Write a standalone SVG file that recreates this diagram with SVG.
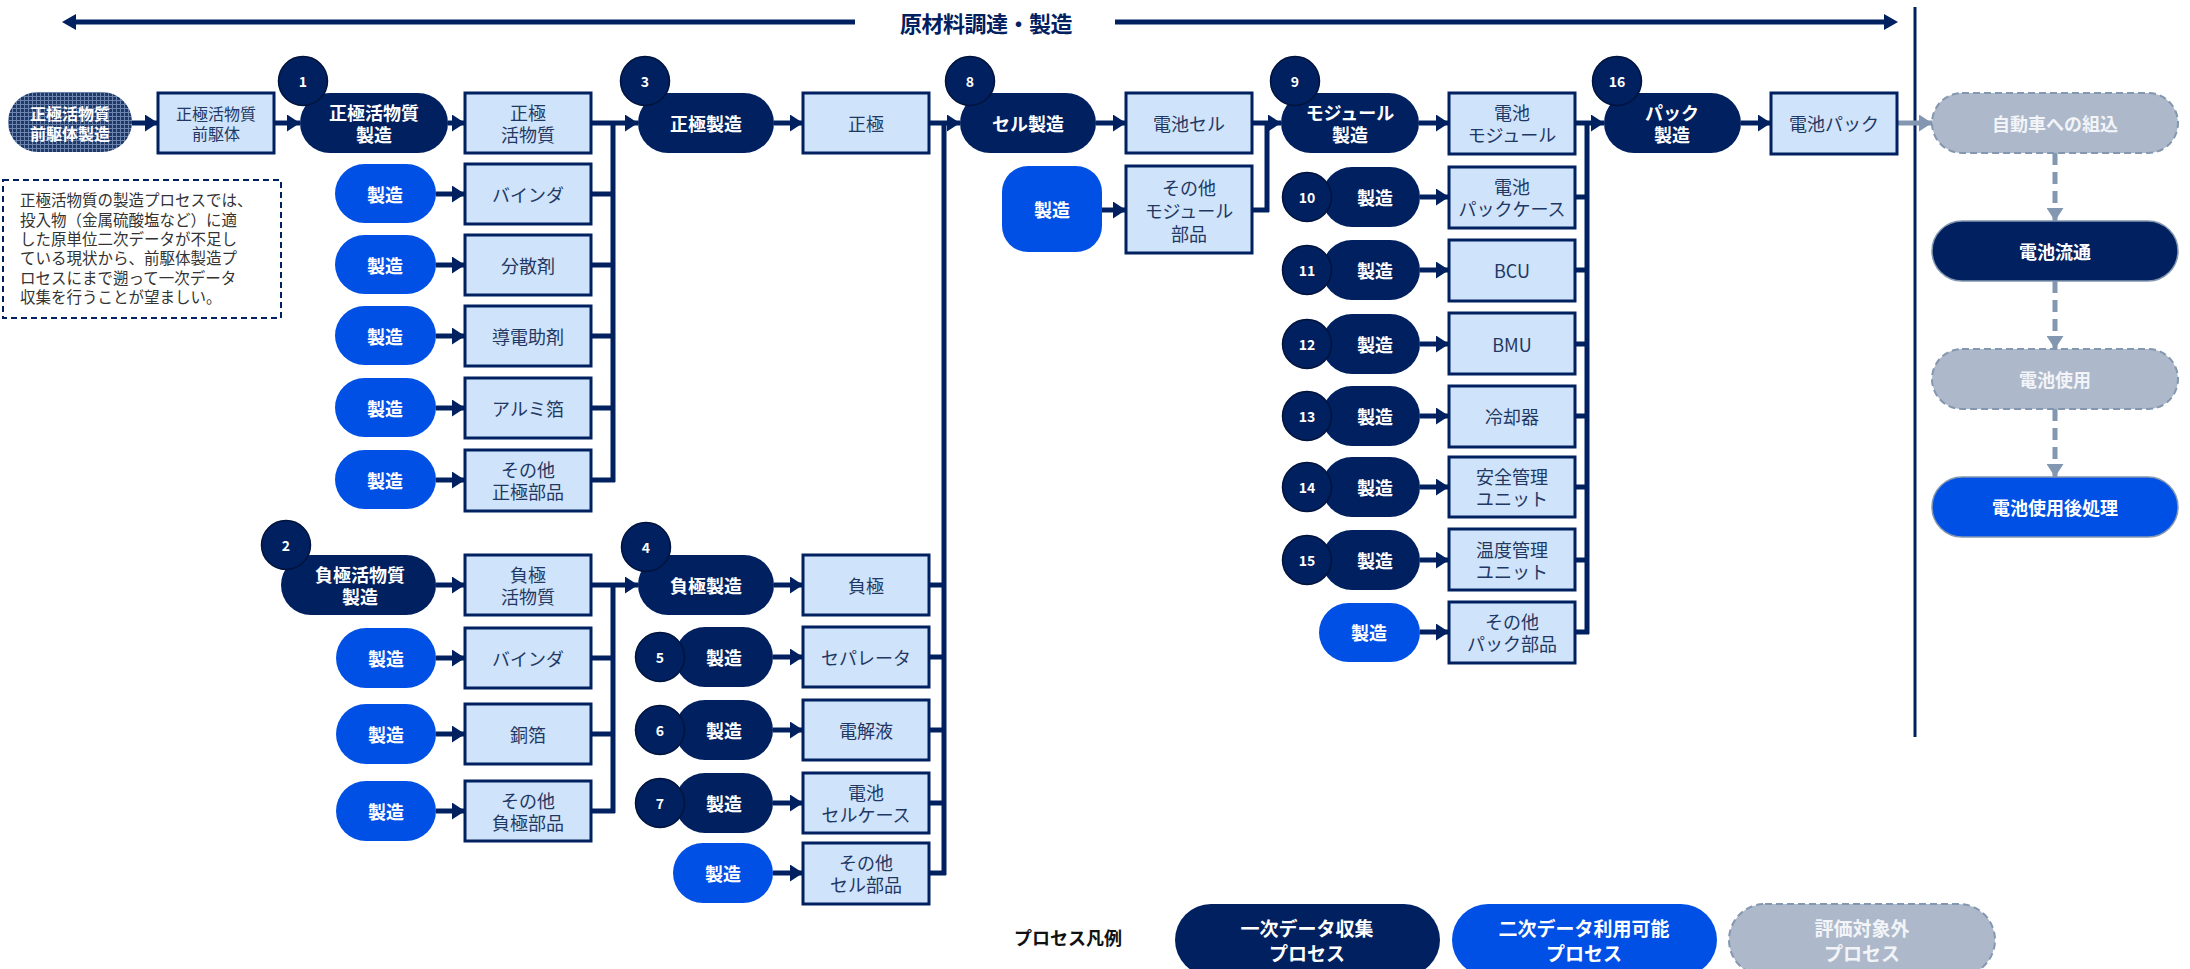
<svg xmlns="http://www.w3.org/2000/svg" width="2190" height="969" viewBox="0 0 2190 969">
<defs>
<style>
.dk{fill:#002060}
.bl{fill:#0050e6}
.bx{fill:#cfe3fa;stroke:#002060;stroke-width:3}
.gr{fill:#adb9ca;stroke:#8497b0;stroke-width:2;stroke-dasharray:7 4}
.cir{fill:#002060;stroke:#00133d;stroke-width:1.5}
text{font-family:"Noto Sans CJK JP","Noto Sans",sans-serif;dominant-baseline:central;text-anchor:middle}
.wt{font-weight:bold;fill:#ffffff;font-size:18px}
.gt{font-weight:bold;fill:#f2f4f8;font-size:18px}
.bt{fill:#1f3864;font-size:18px}
.sm{font-size:16px}
.num{font-weight:bold;fill:#ffffff;font-size:14px}
.ln{stroke:#002060;stroke-width:5;fill:none}
.ar{stroke:#002060;stroke-width:5;fill:none;marker-end:url(#ah)}
.ga{stroke:#8497b0;stroke-width:5;fill:none;marker-end:url(#gh)}
.gd{stroke:#8497b0;stroke-width:5;fill:none;stroke-dasharray:12 7;marker-end:url(#gh)}
.note{fill:#333333;font-size:15.5px;text-anchor:start;font-weight:normal}
</style>
<marker id="ah" markerUnits="userSpaceOnUse" markerWidth="13" markerHeight="17" refX="13" refY="8.5" orient="auto"><path d="M0,0 L13,8.5 L0,17 z" fill="#002060"/></marker>
<marker id="gh" markerUnits="userSpaceOnUse" markerWidth="13" markerHeight="17" refX="13" refY="8.5" orient="auto"><path d="M0,0 L13,8.5 L0,17 z" fill="#8497b0"/></marker>
<pattern id="hatch" width="4" height="4" patternUnits="userSpaceOnUse"><rect width="4" height="4" fill="#20396b"/><path d="M0,0.5 H4 M0.5,0 V4" stroke="#6d84ad" stroke-width="1"/></pattern>
</defs>

<g id="header">
<line x1="74" y1="22" x2="855" y2="22" class="ln"/>
<path d="M62,22 L76,14 L76,30 z" fill="#002060"/>
<line x1="1115" y1="22" x2="1886" y2="22" class="ln"/>
<path d="M1898,22 L1884,14 L1884,30 z" fill="#002060"/>
<text x="986" y="22" style="font-weight:bold;font-size:22px;fill:#002060;letter-spacing:-0.5px">原材料調達・製造</text>
<line x1="1915" y1="7" x2="1915" y2="737" stroke="#002060" stroke-width="3"/>
</g>

<g id="connectors">
<line x1="132" y1="123" x2="158" y2="123" class="ar"/>
<line x1="274" y1="123" x2="300" y2="123" class="ar"/>
<line x1="448" y1="123" x2="465" y2="123" class="ar"/>
<line x1="436" y1="194" x2="465" y2="194" class="ar"/>
<line x1="436" y1="265" x2="465" y2="265" class="ar"/>
<line x1="436" y1="336" x2="465" y2="336" class="ar"/>
<line x1="436" y1="408" x2="465" y2="408" class="ar"/>
<line x1="436" y1="480" x2="465" y2="480" class="ar"/>
<line x1="591" y1="123" x2="638" y2="123" class="ar"/>
<path d="M613,121 V482 M591,194 H615 M591,265 H615 M591,336 H615 M591,408 H615 M591,480 H615" class="ln"/>
<line x1="774" y1="123" x2="803" y2="123" class="ar"/>
<line x1="929" y1="123" x2="960" y2="123" class="ar"/>
<path d="M944,121 V875 M929,585 H946 M929,657 H946 M929,730 H946 M929,803 H946 M929,873 H946" class="ln"/>
<line x1="436" y1="585" x2="465" y2="585" class="ar"/>
<line x1="436" y1="658" x2="465" y2="658" class="ar"/>
<line x1="436" y1="734" x2="465" y2="734" class="ar"/>
<line x1="436" y1="811" x2="465" y2="811" class="ar"/>
<line x1="591" y1="585" x2="638" y2="585" class="ar"/>
<path d="M613,583 V813 M591,658 H615 M591,734 H615 M591,811 H615" class="ln"/>
<line x1="774" y1="585" x2="803" y2="585" class="ar"/>
<line x1="773" y1="657" x2="803" y2="657" class="ar"/>
<line x1="773" y1="730" x2="803" y2="730" class="ar"/>
<line x1="773" y1="803" x2="803" y2="803" class="ar"/>
<line x1="773" y1="873" x2="803" y2="873" class="ar"/>
<line x1="1096" y1="123" x2="1126" y2="123" class="ar"/>
<line x1="1102" y1="210" x2="1126" y2="210" class="ar"/>
<line x1="1252" y1="123" x2="1281" y2="123" class="ar"/>
<path d="M1267,121 V212 M1252,210 H1269" class="ln"/>
<line x1="1419" y1="123" x2="1449" y2="123" class="ar"/>
<line x1="1420" y1="197" x2="1449" y2="197" class="ar"/>
<line x1="1420" y1="270" x2="1449" y2="270" class="ar"/>
<line x1="1420" y1="344" x2="1449" y2="344" class="ar"/>
<line x1="1420" y1="416" x2="1449" y2="416" class="ar"/>
<line x1="1420" y1="487" x2="1449" y2="487" class="ar"/>
<line x1="1420" y1="560" x2="1449" y2="560" class="ar"/>
<line x1="1420" y1="632" x2="1449" y2="632" class="ar"/>
<line x1="1575" y1="123" x2="1604" y2="123" class="ar"/>
<path d="M1587,121 V634 M1575,197 H1589 M1575,270 H1589 M1575,344 H1589 M1575,416 H1589 M1575,487 H1589 M1575,560 H1589 M1575,632 H1589" class="ln"/>
<line x1="1741" y1="123" x2="1771" y2="123" class="ar"/>
<line x1="1897" y1="123" x2="1932" y2="123" class="ga"/>
<line x1="2055" y1="153" x2="2055" y2="221" class="gd"/>
<line x1="2055" y1="281" x2="2055" y2="349" class="gd"/>
<line x1="2055" y1="409" x2="2055" y2="477" class="gd"/>
</g>

<g id="note">
<rect x="3" y="180" width="278" height="138" fill="none" stroke="#002060" stroke-width="2" stroke-dasharray="6 4"/>
<text class="note" x="20" y="199">正極活物質の製造プロセスでは、</text>
<text class="note" x="20" y="219">投入物（金属硫酸塩など）に適</text>
<text class="note" x="20" y="238">した原単位二次データが不足し</text>
<text class="note" x="20" y="257">ている現状から、前駆体製造プ</text>
<text class="note" x="20" y="277">ロセスにまで遡って一次データ</text>
<text class="note" x="20" y="296">収集を行うことが望ましい。</text>
</g>

<g id="n-precursor-mfg"><rect x="8" y="92" width="124" height="60" rx="30" fill="url(#hatch)"/><text class="wt sm" x="70" y="113">正極活物質</text><text class="wt sm" x="70" y="133">前駆体製造</text></g>
<g id="n-precursor"><rect x="158" y="93" width="116" height="60" class="bx"/><text class="bt sm" x="216" y="113">正極活物質</text><text class="bt sm" x="216" y="133">前駆体</text></g>
<g id="n-cam-mfg"><rect x="300" y="93" width="148" height="60" rx="30" class="dk"/><text class="wt" x="374" y="112">正極活物質</text><text class="wt" x="374" y="134">製造</text><circle cx="303" cy="81" r="24.5" class="cir"/><text class="num" x="303" y="81">1</text></g>
<g id="n-cam"><rect x="465" y="93" width="126" height="60" class="bx"/><text class="bt" x="528" y="112">正極</text><text class="bt" x="528" y="134">活物質</text></g>

<g id="n-p1"><rect x="335" y="164" width="101" height="59" rx="29.5" class="bl"/><text class="wt" x="385" y="194">製造</text></g>
<g id="n-binder-c"><rect x="465" y="164" width="126" height="60" class="bx"/><text class="bt" x="528" y="194">バインダ</text></g>
<g id="n-p2"><rect x="335" y="235" width="101" height="59" rx="29.5" class="bl"/><text class="wt" x="385" y="265">製造</text></g>
<g id="n-disp"><rect x="465" y="235" width="126" height="60" class="bx"/><text class="bt" x="528" y="265">分散剤</text></g>
<g id="n-p3"><rect x="335" y="306" width="101" height="59" rx="29.5" class="bl"/><text class="wt" x="385" y="336">製造</text></g>
<g id="n-cond"><rect x="465" y="306" width="126" height="60" class="bx"/><text class="bt" x="528" y="336">導電助剤</text></g>
<g id="n-p4"><rect x="335" y="378" width="101" height="59" rx="29.5" class="bl"/><text class="wt" x="385" y="408">製造</text></g>
<g id="n-al"><rect x="465" y="378" width="126" height="60" class="bx"/><text class="bt" x="528" y="408">アルミ箔</text></g>
<g id="n-p5"><rect x="335" y="450" width="101" height="59" rx="29.5" class="bl"/><text class="wt" x="385" y="480">製造</text></g>
<g id="n-cath-other"><rect x="465" y="450" width="126" height="61" class="bx"/><text class="bt" x="528" y="469">その他</text><text class="bt" x="528" y="491">正極部品</text></g>

<g id="n-cath-mfg"><rect x="638" y="93" width="136" height="60" rx="30" class="dk"/><text class="wt" x="706" y="123">正極製造</text><circle cx="645" cy="81" r="24.5" class="cir"/><text class="num" x="645" y="81">3</text></g>
<g id="n-cath"><rect x="803" y="93" width="126" height="60" class="bx"/><text class="bt" x="866" y="123">正極</text></g>

<g id="n-aam-mfg"><rect x="281" y="555" width="155" height="60" rx="30" class="dk"/><text class="wt" x="360" y="574">負極活物質</text><text class="wt" x="360" y="596">製造</text><circle cx="286" cy="545" r="24.5" class="cir"/><text class="num" x="286" y="545">2</text></g>
<g id="n-aam"><rect x="465" y="555" width="126" height="60" class="bx"/><text class="bt" x="528" y="574">負極</text><text class="bt" x="528" y="596">活物質</text></g>
<g id="n-p6"><rect x="336" y="628" width="100" height="60" rx="30" class="bl"/><text class="wt" x="386" y="658">製造</text></g>
<g id="n-binder-a"><rect x="465" y="628" width="126" height="60" class="bx"/><text class="bt" x="528" y="658">バインダ</text></g>
<g id="n-p7"><rect x="336" y="704" width="100" height="60" rx="30" class="bl"/><text class="wt" x="386" y="734">製造</text></g>
<g id="n-cu"><rect x="465" y="704" width="126" height="60" class="bx"/><text class="bt" x="528" y="734">銅箔</text></g>
<g id="n-p8"><rect x="336" y="781" width="100" height="60" rx="30" class="bl"/><text class="wt" x="386" y="811">製造</text></g>
<g id="n-an-other"><rect x="465" y="781" width="126" height="60" class="bx"/><text class="bt" x="528" y="800">その他</text><text class="bt" x="528" y="822">負極部品</text></g>

<g id="n-an-mfg"><rect x="638" y="555" width="136" height="60" rx="30" class="dk"/><text class="wt" x="706" y="585">負極製造</text><circle cx="646" cy="547" r="24.5" class="cir"/><text class="num" x="646" y="547">4</text></g>
<g id="n-an"><rect x="803" y="555" width="126" height="60" class="bx"/><text class="bt" x="866" y="585">負極</text></g>

<g id="n-sep-mfg"><rect x="675" y="627" width="98" height="60" rx="30" class="dk"/><text class="wt" x="724" y="657">製造</text><circle cx="660" cy="657" r="24.5" class="cir"/><text class="num" x="660" y="657">5</text></g>
<g id="n-sep"><rect x="803" y="627" width="126" height="60" class="bx"/><text class="bt" x="866" y="657">セパレータ</text></g>
<g id="n-el-mfg"><rect x="675" y="700" width="98" height="60" rx="30" class="dk"/><text class="wt" x="724" y="730">製造</text><circle cx="660" cy="730" r="24.5" class="cir"/><text class="num" x="660" y="730">6</text></g>
<g id="n-el"><rect x="803" y="700" width="126" height="60" class="bx"/><text class="bt" x="866" y="730">電解液</text></g>
<g id="n-case-mfg"><rect x="675" y="773" width="98" height="60" rx="30" class="dk"/><text class="wt" x="724" y="803">製造</text><circle cx="660" cy="803" r="24.5" class="cir"/><text class="num" x="660" y="803">7</text></g>
<g id="n-case"><rect x="803" y="773" width="126" height="60" class="bx"/><text class="bt" x="866" y="792">電池</text><text class="bt" x="866" y="814">セルケース</text></g>
<g id="n-p9"><rect x="673" y="843" width="100" height="60" rx="30" class="bl"/><text class="wt" x="723" y="873">製造</text></g>
<g id="n-cell-other"><rect x="803" y="843" width="126" height="61" class="bx"/><text class="bt" x="866" y="862">その他</text><text class="bt" x="866" y="884">セル部品</text></g>

<g id="n-cell-mfg"><rect x="960" y="93" width="136" height="60" rx="30" class="dk"/><text class="wt" x="1028" y="123">セル製造</text><circle cx="970" cy="81" r="24.5" class="cir"/><text class="num" x="970" y="81">8</text></g>
<g id="n-cell"><rect x="1126" y="93" width="126" height="60" class="bx"/><text class="bt" x="1189" y="123">電池セル</text></g>
<g id="n-p10"><rect x="1002" y="166" width="100" height="86" rx="26" class="bl"/><text class="wt" x="1052" y="209">製造</text></g>
<g id="n-mod-other"><rect x="1126" y="166" width="126" height="87" class="bx"/><text class="bt" x="1189" y="187">その他</text><text class="bt" x="1189" y="210">モジュール</text><text class="bt" x="1189" y="233">部品</text></g>

<g id="n-mod-mfg"><rect x="1281" y="93" width="138" height="60" rx="30" class="dk"/><text class="wt" x="1350" y="112">モジュール</text><text class="wt" x="1350" y="134">製造</text><circle cx="1295" cy="81" r="24.5" class="cir"/><text class="num" x="1295" y="81">9</text></g>
<g id="n-mod"><rect x="1449" y="93" width="126" height="61" class="bx"/><text class="bt" x="1512" y="112">電池</text><text class="bt" x="1512" y="134">モジュール</text></g>

<g id="n-pc-mfg"><rect x="1322" y="167" width="98" height="60" rx="30" class="dk"/><text class="wt" x="1375" y="197">製造</text><circle cx="1307" cy="197" r="24.5" class="cir"/><text class="num" x="1307" y="197">10</text></g>
<g id="n-pc"><rect x="1449" y="167" width="126" height="61" class="bx"/><text class="bt" x="1512" y="186">電池</text><text class="bt" x="1512" y="208">パックケース</text></g>
<g id="n-bcu-mfg"><rect x="1322" y="240" width="98" height="60" rx="30" class="dk"/><text class="wt" x="1375" y="270">製造</text><circle cx="1307" cy="270" r="24.5" class="cir"/><text class="num" x="1307" y="270">11</text></g>
<g id="n-bcu"><rect x="1449" y="240" width="126" height="61" class="bx"/><text class="bt" x="1512" y="270">BCU</text></g>
<g id="n-bmu-mfg"><rect x="1322" y="314" width="98" height="60" rx="30" class="dk"/><text class="wt" x="1375" y="344">製造</text><circle cx="1307" cy="344" r="24.5" class="cir"/><text class="num" x="1307" y="344">12</text></g>
<g id="n-bmu"><rect x="1449" y="313" width="126" height="61" class="bx"/><text class="bt" x="1512" y="344">BMU</text></g>
<g id="n-cool-mfg"><rect x="1322" y="386" width="98" height="60" rx="30" class="dk"/><text class="wt" x="1375" y="416">製造</text><circle cx="1307" cy="416" r="24.5" class="cir"/><text class="num" x="1307" y="416">13</text></g>
<g id="n-cool"><rect x="1449" y="386" width="126" height="61" class="bx"/><text class="bt" x="1512" y="416">冷却器</text></g>
<g id="n-safe-mfg"><rect x="1322" y="457" width="98" height="60" rx="30" class="dk"/><text class="wt" x="1375" y="487">製造</text><circle cx="1307" cy="487" r="24.5" class="cir"/><text class="num" x="1307" y="487">14</text></g>
<g id="n-safe"><rect x="1449" y="457" width="126" height="60" class="bx"/><text class="bt" x="1512" y="476">安全管理</text><text class="bt" x="1512" y="498">ユニット</text></g>
<g id="n-temp-mfg"><rect x="1322" y="530" width="98" height="60" rx="30" class="dk"/><text class="wt" x="1375" y="560">製造</text><circle cx="1307" cy="560" r="24.5" class="cir"/><text class="num" x="1307" y="560">15</text></g>
<g id="n-temp"><rect x="1449" y="529" width="126" height="61" class="bx"/><text class="bt" x="1512" y="549">温度管理</text><text class="bt" x="1512" y="571">ユニット</text></g>
<g id="n-p11"><rect x="1319" y="603" width="101" height="59" rx="29.5" class="bl"/><text class="wt" x="1369" y="632">製造</text></g>
<g id="n-pack-other"><rect x="1449" y="602" width="126" height="61" class="bx"/><text class="bt" x="1512" y="621">その他</text><text class="bt" x="1512" y="643">パック部品</text></g>

<g id="n-pack-mfg"><rect x="1604" y="93" width="137" height="60" rx="30" class="dk"/><text class="wt" x="1672" y="112">パック</text><text class="wt" x="1672" y="134">製造</text><circle cx="1617" cy="81" r="24.5" class="cir"/><text class="num" x="1617" y="81">16</text></g>
<g id="n-pack"><rect x="1771" y="93" width="126" height="61" class="bx"/><text class="bt" x="1834" y="123">電池パック</text></g>

<g id="n-vehicle"><rect x="1932" y="93" width="246" height="60" rx="30" class="gr"/><text class="gt" x="2055" y="123">自動車への組込</text></g>
<g id="n-dist"><rect x="1932" y="221" width="246" height="60" rx="30" fill="#002060" stroke="#8497b0" stroke-width="1.5"/><text class="wt" x="2055" y="251">電池流通</text></g>
<g id="n-use"><rect x="1932" y="349" width="246" height="60" rx="30" class="gr"/><text class="gt" x="2055" y="379">電池使用</text></g>
<g id="n-eol"><rect x="1932" y="477" width="246" height="60" rx="30" fill="#0050e6" stroke="#8497b0" stroke-width="1.5"/><text class="wt" x="2055" y="507">電池使用後処理</text></g>

<g id="legend">
<text x="1068" y="937" style="font-weight:bold;font-size:18px;fill:#111111">プロセス凡例</text>
<rect x="1175" y="904" width="265" height="72" rx="36" class="dk"/>
<text class="wt" x="1307" y="927" style="font-size:19px">一次データ収集</text><text class="wt" x="1307" y="952" style="font-size:19px">プロセス</text>
<rect x="1452" y="904" width="265" height="72" rx="36" class="bl"/>
<text class="wt" x="1584" y="927" style="font-size:19px">二次データ利用可能</text><text class="wt" x="1584" y="952" style="font-size:19px">プロセス</text>
<rect x="1729" y="904" width="266" height="72" rx="36" class="gr"/>
<text class="gt" x="1862" y="927" style="font-size:19px">評価対象外</text><text class="gt" x="1862" y="952" style="font-size:19px">プロセス</text>
</g>
</svg>
